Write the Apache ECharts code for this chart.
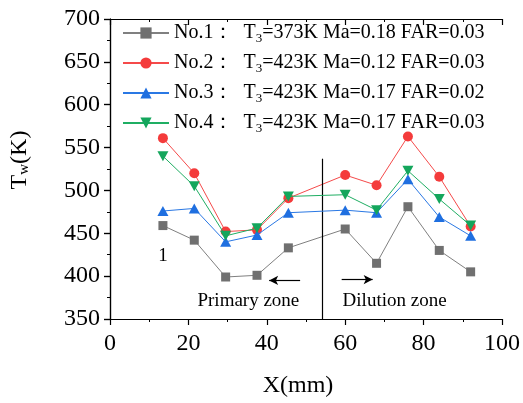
<!DOCTYPE html>
<html><head><meta charset="utf-8">
<script src="https://cdn.jsdelivr.net/npm/echarts@6/dist/echarts.min.js"></script>
<style>html,body{margin:0;padding:0;background:#fff}#c{width:523px;height:403px}</style>
</head><body><div id="c"></div>
<script>
const xValues = [13.5, 21.5, 29.5, 37.5, 45.5, 60, 68, 76, 84, 92];
const no1 = [459, 442, 399, 401, 433, 455, 415, 481, 430, 405];
const no2 = [561, 520, 452, 454, 491, 518, 506, 563, 516, 458];
const no3 = [476, 479, 440, 448, 474, 477, 474, 513, 469, 447];
const no4 = [540, 505, 447, 456, 493, 495, 477, 523, 490, 459];
const seriesNames = ['No.1', 'No.2', 'No.3', 'No.4'];
const legendLabels = [
  'No.1：  T{s|3}=373K Ma=0.18 FAR=0.03',
  'No.2：  T{s|3}=423K Ma=0.12 FAR=0.03',
  'No.3：  T{s|3}=423K Ma=0.17 FAR=0.02',
  'No.4：  T{s|3}=423K Ma=0.17 FAR=0.03'
];
const xTicks = [0, 20, 40, 60, 80, 100];
const yTicks = [350, 400, 450, 500, 550, 600, 650, 700];
const divider = { x: 54.1, yTop: 537, yBottom: 350 };
const leftArrow = [[48.5, 395], [40.6, 395]];
const rightArrow = [[59.1, 396], [67.0, 396]];
const notes = [
  { text: '1', coord: [13.5, 424] },
  { text: 'Primary zone', coord: [35.3, 371.5] },
  { text: 'Dilution zone', coord: [72.6, 371.5] }
];

const FONT = "'Liberation Serif', 'Times New Roman', serif";
const colors = ['#707070', '#f43b3b', '#1f6fe0', '#14a65c'];
const lineColors = ['#808080', '#f54a4a', '#2a78e4', '#1fae63'];
const symbols = ['rect', 'circle', 'triangle', 'path://M0,0 L10,0 L5,8.66 Z'];
const symbolSizes = [9, 10, [11, 10], [11, 10]];
const allData = [no1, no2, no3, no4];

const chart = echarts.init(document.getElementById('c'), null, { renderer: 'canvas' });

const axisCommon = {
  axisLine: { show: true, lineStyle: { color: '#000', width: 1.2 } },
  splitLine: { show: false }
};

const series = allData.map((d, i) => ({
  name: seriesNames[i],
  type: 'line',
  data: xValues.map((x, j) => [x, d[j]]),
  symbol: symbols[i],
  symbolSize: symbolSizes[i],
  showAllSymbol: true,
  lineStyle: { color: lineColors[i], width: 1 },
  itemStyle: { color: colors[i] },
  animation: false,
  z: 3 + i
}));

series[0].markLine = {
  silent: true,
  animation: false,
  label: { show: false },
  lineStyle: { color: '#000', width: 1.2, type: 'solid' },
  symbolSize: [7, 9],
  data: [
    [{ coord: [divider.x, divider.yTop], symbol: 'none' }, { coord: [divider.x, divider.yBottom], symbol: 'none' }],
    [{ coord: leftArrow[0], symbol: 'none' }, { coord: leftArrow[1], symbol: 'arrow' }],
    [{ coord: rightArrow[0], symbol: 'none' }, { coord: rightArrow[1], symbol: 'arrow' }]
  ]
};
series[0].markPoint = {
  silent: true,
  animation: false,
  symbol: 'circle',
  symbolSize: 0,
  data: notes.map(n => ({
    coord: n.coord,
    label: { show: true, position: 'inside', formatter: n.text, color: '#000', fontFamily: FONT, fontSize: 19 }
  }))
};

const tickLabel = { fontFamily: FONT, fontSize: 24, color: '#000', fontWeight: 'normal' };

chart.setOption({
  backgroundColor: '#fff',
  animation: false,
  textStyle: { fontFamily: FONT, color: '#000' },
  grid: { left: 109, right: 20, top: 19, bottom: 71, containLabel: false },
  legend: {
    orient: 'vertical',
    left: 117,
    top: 16,
    itemWidth: 46,
    itemHeight: 14,
    itemGap: 6,
    data: seriesNames,
    formatter: name => legendLabels[seriesNames.indexOf(name)],
    textStyle: {
      fontFamily: FONT, fontSize: 20, color: '#000', lineHeight: 24,
      rich: { s: { fontFamily: FONT, fontSize: 13, lineHeight: 13, verticalAlign: 'bottom', color: '#000' } }
    }
  },
  xAxis: [{
    type: 'value', min: 0, max: 100, interval: 20,
    ...axisCommon,
    axisTick: { show: true, inside: false, length: 6, lineStyle: { color: '#000', width: 1.2 } },
    minorTick: { show: true, splitNumber: 2, length: 3, lineStyle: { color: '#000', width: 1 } },
    axisLabel: { margin: 13, ...tickLabel },
    name: 'X(mm)', nameLocation: 'middle', nameGap: 55,
    nameTextStyle: { fontFamily: FONT, fontSize: 24, color: '#000', padding: [0, 16, 0, 0] }
  }, {
    type: 'value', min: 0, max: 100, interval: 20, position: 'top',
    ...axisCommon,
    axisTick: { show: true, inside: true, length: 6, lineStyle: { color: '#000', width: 1.2 } },
    minorTick: { show: true, splitNumber: 2, length: 3, lineStyle: { color: '#000', width: 1 } },
    axisLabel: { show: false }
  }],
  yAxis: [{
    type: 'value', min: 350, max: 700, interval: 50,
    ...axisCommon,
    axisTick: { show: true, inside: false, length: 6, lineStyle: { color: '#000', width: 1.2 } },
    minorTick: { show: true, splitNumber: 2, length: 3, lineStyle: { color: '#000', width: 1 } },
    axisLabel: { margin: 10, ...tickLabel },
    name: 'T{s|w}(K)', nameLocation: 'middle', nameGap: 78,
    nameTextStyle: {
      fontFamily: FONT, fontSize: 24, color: '#000', padding: [0, 0, 0, 18],
      rich: { s: { fontFamily: FONT, fontSize: 15, lineHeight: 15, verticalAlign: 'bottom', color: '#000' } }
    }
  }, {
    type: 'value', min: 350, max: 700, interval: 50, position: 'right',
    ...axisCommon,
    axisTick: { show: true, inside: true, length: 6, lineStyle: { color: '#000', width: 1.2 } },
    minorTick: { show: true, splitNumber: 2, length: 3, lineStyle: { color: '#000', width: 1 } },
    axisLabel: { show: false }
  }],
  series: series
});
</script>
</body></html>
